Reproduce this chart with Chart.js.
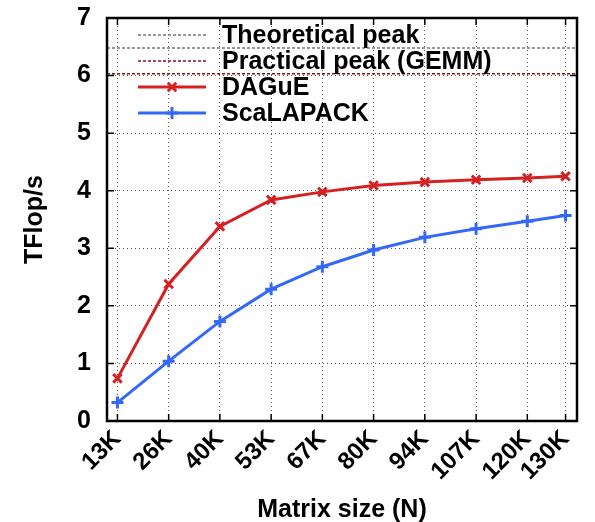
<!DOCTYPE html>
<html><head><meta charset="utf-8">
<script src="https://cdn.jsdelivr.net/npm/chart.js@4/dist/chart.umd.min.js"></script>
<style>html,body{margin:0;padding:0;background:#fff}#wrap{width:595px;height:522px}</style>
</head><body><div id="wrap"><canvas id="c" width="595" height="522"></canvas></div>
<script>
// Matrix sizes (thousands) and tick labels
const matrixSizes = [13.44, 26.88, 40.32, 53.76, 67.2, 80.64, 94.08, 107.52, 120.96, 131];
const tickLabels = ['13K','26K','40K','53K','67K','80K','94K','107K','120K','130K'];
const dagueValues = [0.74, 2.38, 3.38, 3.84, 3.98, 4.09, 4.15, 4.19, 4.22, 4.25];
const scalapackValues = [0.32, 1.04, 1.73, 2.29, 2.68, 2.97, 3.19, 3.34, 3.47, 3.57];
const theoreticalPeak = 6.48;
const practicalPeak = 6.03;
const xMin = 10.7, xMax = 134;
const yTicks = [0,1,2,3,4,5,6,7];

const FONT = "'Liberation Sans', Arial, Helvetica, sans-serif";

const pts = (ys) => matrixSizes.map((x, i) => ({x, y: ys[i]}));

const frameAndTicks = {
  id: 'frameAndTicks',
  afterDatasetsDraw(chart) {
    const {ctx, chartArea: a, scales} = chart;
    ctx.save();
    ctx.strokeStyle = '#000';
    ctx.lineWidth = 1.5;
    const L = 7;
    ctx.beginPath();
    matrixSizes.forEach(v => {
      const px = scales.x.getPixelForValue(v);
      ctx.moveTo(px, a.bottom); ctx.lineTo(px, a.bottom - L);
      ctx.moveTo(px, a.top); ctx.lineTo(px, a.top + L);
    });
    yTicks.forEach(v => {
      const py = scales.y.getPixelForValue(v);
      ctx.moveTo(a.left, py); ctx.lineTo(a.left + L, py);
      ctx.moveTo(a.right, py); ctx.lineTo(a.right - L, py);
    });
    ctx.stroke();
    ctx.lineWidth = 2.5;
    ctx.strokeRect(a.left, a.top, a.right - a.left, a.bottom - a.top);
    // legend inside plot
    const items = chart.data.datasets;
    const x0 = a.left + 31, x1 = a.left + 99, tx = a.left + 115;
    const rows = [a.top + 17, a.top + 43, a.top + 69, a.top + 95];
    ctx.font = 'bold 25px ' + FONT;
    ctx.textBaseline = 'middle';
    ctx.textAlign = 'left';
    items.forEach((ds, i) => {
      const y = rows[i];
      ctx.save();
      ctx.strokeStyle = ds.borderColor;
      ctx.lineWidth = ds.borderWidth;
      ctx.setLineDash(ds.borderDash || []);
      ctx.beginPath(); ctx.moveTo(x0, y); ctx.lineTo(x1, y); ctx.stroke();
      ctx.restore();
      if (ds.pointStyle && ds.pointRadius > 0) {
        ctx.save();
        ctx.strokeStyle = ds.borderColor; ctx.fillStyle = ds.borderColor; ctx.lineWidth = ds.pointBorderWidth;
        Chart.helpers.drawPoint(ctx, {pointStyle: ds.pointStyle, radius: ds.pointRadius, borderWidth: ds.pointBorderWidth}, (x0 + x1) / 2, y);
        ctx.restore();
      }
      ctx.fillStyle = '#000';
      ctx.fillText(ds.label, tx, y + 1);
    });
    ctx.restore();
  }
};

new Chart(document.getElementById('c'), {
  type: 'line',
  data: {
    datasets: [
      {label: 'Theoretical peak', data: [{x: xMin, y: theoreticalPeak}, {x: xMax, y: theoreticalPeak}],
       borderColor: '#777777', borderWidth: 1.5, borderDash: [3, 2], pointRadius: 0},
      {label: 'Practical peak (GEMM)', data: [{x: xMin, y: practicalPeak}, {x: xMax, y: practicalPeak}],
       borderColor: '#8b1212', borderWidth: 1.5, borderDash: [3, 2], pointRadius: 0},
      {label: 'DAGuE', data: pts(dagueValues), borderColor: '#d42222', backgroundColor: '#d42222',
       borderWidth: 3, pointStyle: 'crossRot', pointRadius: 6, pointBorderWidth: 3},
      {label: 'ScaLAPACK', data: pts(scalapackValues), borderColor: '#3468f8', backgroundColor: '#3468f8',
       borderWidth: 3, pointStyle: 'cross', pointRadius: 6, pointBorderWidth: 3}
    ]
  },
  options: {
    responsive: false,
    animation: false,
    layout: {padding: {top: 18, right: 18, left: 0, bottom: 0}},
    plugins: {legend: {display: false}, tooltip: {enabled: false}},
    elements: {line: {tension: 0}},
    scales: {
      x: {
        type: 'linear', min: xMin, max: xMax,
        afterBuildTicks: (s) => { s.ticks = matrixSizes.map(v => ({value: v})); },
        afterFit: (s) => { s.height = 101; s.paddingRight = 0; s.paddingTop = 0; },
        grid: {color: '#555', lineWidth: 1, drawTicks: false},
        border: {display: false, dash: [1, 3]},
        ticks: {
          autoSkip: false, maxRotation: 45, minRotation: 45, padding: 4,
          color: '#000', font: {family: FONT, weight: 'bold', size: 24},
          callback: (v, i) => tickLabels[i]
        },
        title: {display: true, text: 'Matrix size (N)', color: '#000',
                font: {family: FONT, weight: 'bold', size: 25}, padding: {top: 0, bottom: -3}}
      },
      y: {
        min: 0, max: 7,
        afterBuildTicks: (s) => { s.ticks = yTicks.map(v => ({value: v})); },
        afterFit: (s) => { s.width = 107; s.paddingTop = 0; s.paddingBottom = 0; },
        grid: {color: '#555', lineWidth: 1, drawTicks: false},
        border: {display: false, dash: [1, 3]},
        ticks: {padding: 16, color: '#000', font: {family: FONT, weight: 'bold', size: 25}},
        title: {display: true, text: 'TFlop/s', color: '#000',
                font: {family: FONT, weight: 'bold', size: 25}, padding: {top: 20, bottom: 10}}
      }
    }
  },
  plugins: [frameAndTicks]
});
</script></body></html>
